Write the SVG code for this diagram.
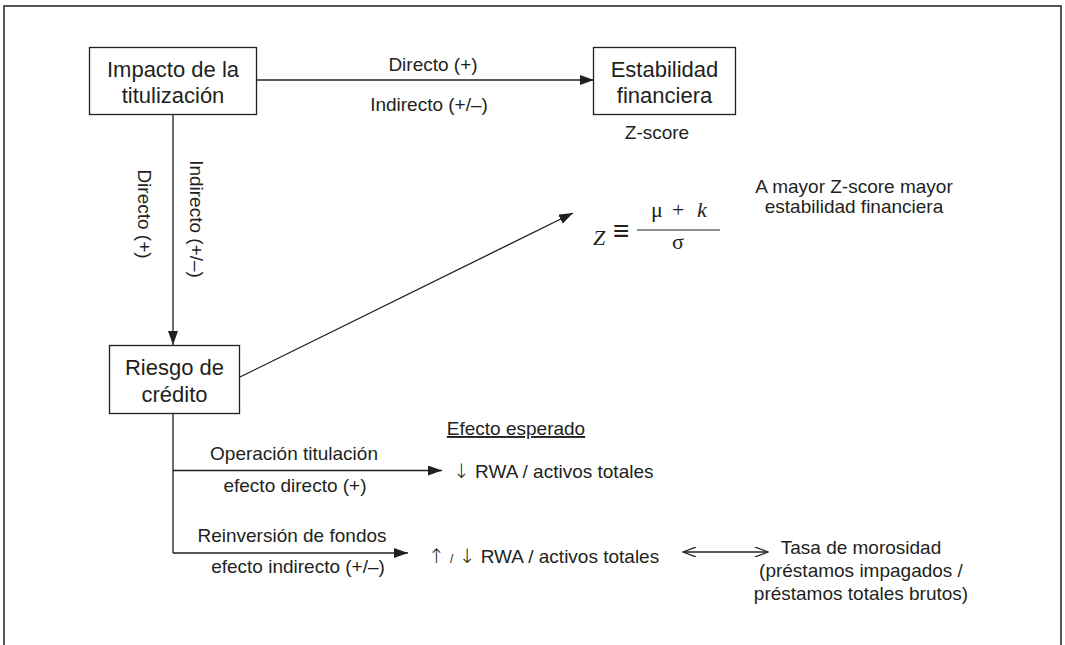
<svg xmlns="http://www.w3.org/2000/svg" width="1065" height="645" viewBox="0 0 1065 645">
<style>
text{font-family:"Liberation Sans",Arial,sans-serif;fill:#231f20}
.bx{fill:#fff;stroke:#231f20;stroke-width:1.3}
.bt{font-size:22px;text-anchor:middle}
.lb{font-size:19px}
.c{text-anchor:middle}
.ln{stroke:#231f20;stroke-width:1.3;fill:none}
.m{font-family:"Liberation Serif","Times New Roman",serif;font-size:22px}
.ar{font-family:"DejaVu Sans",sans-serif;font-size:20px;font-weight:300}
</style>
<defs>
<marker id="ah" viewBox="0 0 14 10" refX="14" refY="5" markerWidth="14" markerHeight="10" markerUnits="userSpaceOnUse" orient="auto">
<path d="M0,0 L14,5 L0,10 z" fill="#231f20"/>
</marker>
<marker id="oh" viewBox="0 0 14 10" refX="13" refY="5" markerWidth="14" markerHeight="10" markerUnits="userSpaceOnUse" orient="auto-start-reverse">
<path d="M0,0 L13,5 L0,10" fill="none" stroke="#231f20" stroke-width="1.2"/>
</marker>
</defs>
<rect width="1065" height="645" fill="#fff"/>
<path d="M4,645 V6 H1061 V645" fill="none" stroke="#231f20" stroke-width="1.5"/>

<g id="connectors">
<line class="ln" x1="257" y1="80" x2="594" y2="80" marker-end="url(#ah)"/>
<line class="ln" x1="173" y1="115" x2="173" y2="345" marker-end="url(#ah)"/>
<line class="ln" x1="240" y1="377" x2="573" y2="213" marker-end="url(#ah)"/>
<polyline class="ln" points="173,414 173,553"/>
<line class="ln" x1="173" y1="470.5" x2="442" y2="470.5" marker-end="url(#ah)"/>
<line class="ln" x1="173" y1="553" x2="408" y2="553" marker-end="url(#ah)"/>
<line class="ln" x1="683" y1="552" x2="768" y2="552" marker-start="url(#oh)" marker-end="url(#oh)"/>
</g>

<g id="impacto">
<rect class="bx" x="89.5" y="47.5" width="167" height="67"/>
<text class="bt" x="173" y="77">Impacto de la</text>
<text class="bt" x="173" y="103">titulización</text>
</g>
<g id="estabilidad">
<rect class="bx" x="593.5" y="47.5" width="142" height="67"/>
<text class="bt" x="664.5" y="77">Estabilidad</text>
<text class="bt" x="664.5" y="103">financiera</text>
</g>
<g id="riesgo">
<rect class="bx" x="109.5" y="345.5" width="130" height="68"/>
<text class="bt" x="174.5" y="375">Riesgo de</text>
<text class="bt" x="174.5" y="402">crédito</text>
</g>

<g id="labels">
<text class="lb c" x="433" y="71">Directo (+)</text>
<text class="lb c" x="429" y="111">Indirecto (+/–)</text>
<text class="lb c" x="657" y="139">Z-score</text>
<text class="lb c" x="854" y="193">A mayor Z-score mayor</text>
<text class="lb c" x="854" y="213">estabilidad financiera</text>
<text class="lb c" transform="translate(138,214) rotate(90)">Directo (+)</text>
<text class="lb c" transform="translate(190,219) rotate(90)">Indirecto (+/–)</text>
<text class="lb c" x="516" y="435" text-decoration="underline">Efecto esperado</text>
<text class="lb c" x="294" y="460">Operación titulación</text>
<text class="lb c" x="295" y="492">efecto directo (+)</text>
<text class="lb c" x="292" y="542">Reinversión de fondos</text>
<text class="lb c" x="298" y="573">efecto indirecto (+/–)</text>
<text class="lb" x="453" y="478"><tspan class="ar">↓</tspan> RWA / activos totales</text>
<text class="lb" x="428" y="563"><tspan class="ar">↑</tspan> <tspan font-size="12">/</tspan> <tspan class="ar">↓</tspan> RWA / activos totales</text>
<text class="lb c" x="861" y="554">Tasa de morosidad</text>
<text class="lb c" x="861" y="577">(préstamos impagados /</text>
<text class="lb c" x="861" y="600">préstamos totales brutos)</text>
</g>

<g id="formula">
<text class="m" x="593" y="245" font-style="italic">Z</text>
<text x="613" y="240" font-family="DejaVu Sans,sans-serif" font-size="28" font-weight="300">≡</text>
<line x1="637" y1="230" x2="720" y2="230" stroke="#231f20" stroke-width="1.2"/>
<text class="m" x="651" y="217">μ</text>
<text class="m" x="672" y="217">+</text>
<text class="m" x="697" y="217" font-style="italic">k</text>
<text class="m" x="672" y="249">σ</text>
</g>
</svg>
